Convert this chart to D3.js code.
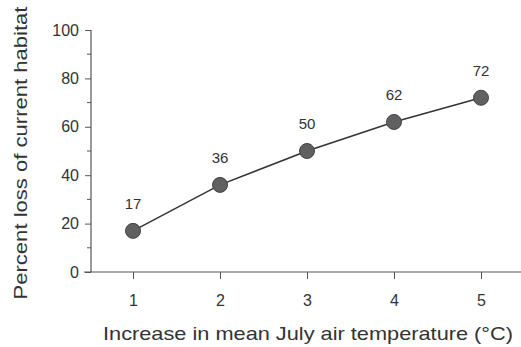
<!DOCTYPE html>
<html>
<head>
<meta charset="utf-8">
<script src="https://cdn.jsdelivr.net/npm/d3@7"></script>
<style>
  body { margin: 0; background: #fff; }
  svg { display: block; font-family: "Liberation Sans", Arial, sans-serif; }
</style>
</head>
<body>
<div id="chart"></div>
<script>
// values
const tempIncrease = [1, 2, 3, 4, 5]
const habitatLoss = [17, 36, 50, 62, 72]
const yTicks = [0, 20, 40, 60, 80, 100]
const yMinorTicks = [10, 30, 50, 70, 90]

const width = 521, height = 347

const svg = d3.select('#chart').append('svg')
    .attr('width', width)
    .attr('height', height)

const x = d3.scaleLinear().domain([1, 5]).range([133, 481])
const y = d3.scaleLinear().domain([0, 100]).range([272, 30])

const axisColor = '#555'
const textColor = '#333'

// y axis
const yAxis = d3.axisLeft(y).tickValues(yTicks).tickSize(6).tickPadding(6)
svg.append('g')
    .attr('transform', 'translate(91,0)')
    .call(yAxis)
    .call(g => g.select('.domain').remove())
    .call(g => g.selectAll('.tick line').attr('stroke', axisColor))
    .call(g => g.selectAll('.tick text')
        .attr('fill', textColor)
        .attr('font-size', 16)
        .attr('font-family', '"Liberation Sans", Arial, sans-serif'))

svg.append('g')
    .selectAll('line')
    .data(yMinorTicks)
    .join('line')
    .attr('x1', 87).attr('x2', 91)
    .attr('y1', d => y(d)).attr('y2', d => y(d))
    .attr('stroke', axisColor)

svg.append('line')
    .attr('x1', 91).attr('x2', 91)
    .attr('y1', y(100)).attr('y2', y(0))
    .attr('stroke', axisColor)
    .attr('stroke-width', 1.2)

// x axis
const xAxis = d3.axisBottom(x)
    .tickValues(tempIncrease)
    .tickFormat(d3.format('d'))
    .tickSize(7)
    .tickPadding(16)
svg.append('g')
    .attr('transform', `translate(0,${y(0)})`)
    .call(xAxis)
    .call(g => g.select('.domain').remove())
    .call(g => g.selectAll('.tick line').attr('stroke', axisColor))
    .call(g => g.selectAll('.tick text')
        .attr('fill', textColor)
        .attr('font-size', 16)
        .attr('font-family', '"Liberation Sans", Arial, sans-serif'))

svg.append('line')
    .attr('x1', 84).attr('x2', width)
    .attr('y1', y(0)).attr('y2', y(0))
    .attr('stroke', axisColor)
    .attr('stroke-width', 1.2)

// line + markers
const points = tempIncrease.map((t, i) => ({ t: t, v: habitatLoss[i] }))

svg.append('path')
    .datum(points)
    .attr('fill', 'none')
    .attr('stroke', '#333')
    .attr('stroke-width', 1.5)
    .attr('d', d3.line().x(d => x(d.t)).y(d => y(d.v)))

svg.append('g')
    .selectAll('circle')
    .data(points)
    .join('circle')
    .attr('cx', d => x(d.t))
    .attr('cy', d => y(d.v))
    .attr('r', 7.5)
    .attr('fill', '#606060')
    .attr('stroke', '#444')
    .attr('stroke-width', 1)

svg.append('g')
    .selectAll('text')
    .data(points)
    .join('text')
    .attr('x', d => x(d.t))
    .attr('y', d => y(d.v) - 22)
    .attr('text-anchor', 'middle')
    .attr('font-size', 15)
    .attr('fill', textColor)
    .text(d => d.v)

// axis titles
svg.append('text')
    .attr('x', 308)
    .attr('y', 340)
    .attr('text-anchor', 'middle')
    .attr('font-size', 19)
    .attr('fill', textColor)
    .attr('textLength', 410)
    .attr('lengthAdjust', 'spacingAndGlyphs')
    .text('Increase in mean July air temperature (°C)')

svg.append('text')
    .attr('transform', 'translate(27,153) rotate(-90)')
    .attr('text-anchor', 'middle')
    .attr('font-size', 19)
    .attr('fill', textColor)
    .attr('textLength', 293)
    .attr('lengthAdjust', 'spacingAndGlyphs')
    .text('Percent loss of current habitat')
</script>
</body>
</html>
